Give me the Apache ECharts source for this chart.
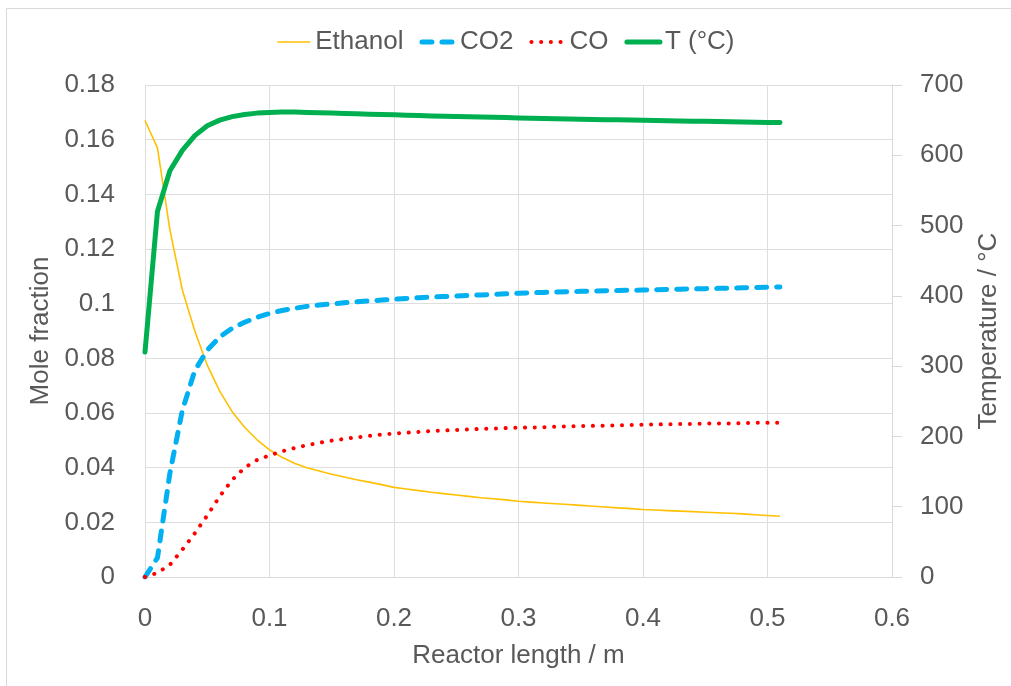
<!DOCTYPE html>
<html>
<head>
<meta charset="utf-8">
<script src="https://cdn.jsdelivr.net/npm/echarts@6/dist/echarts.min.js"></script>
<style>
html, body { margin: 0; padding: 0; background: #fff; }
#main { width: 1011px; height: 686px; }
</style>
</head>
<body>
<div id="main"></div>
<script>
// reactor length (m)
var lengths = [0, 0.01, 0.02, 0.03, 0.04, 0.05, 0.06, 0.07, 0.08, 0.09,
	0.10, 0.11, 0.12, 0.13, 0.14, 0.15, 0.16, 0.17, 0.18, 0.19,
	0.20, 0.21, 0.22, 0.23, 0.24, 0.25, 0.26, 0.27, 0.28, 0.29,
	0.30, 0.31, 0.32, 0.33, 0.34, 0.35, 0.36, 0.37, 0.38, 0.39,
	0.40, 0.41, 0.42, 0.43, 0.44, 0.45, 0.46, 0.47, 0.48, 0.49,
	0.50, 0.51];

var ethanol = [0.1670, 0.1570, 0.1270, 0.1050, 0.0900, 0.0775, 0.0680, 0.0605, 0.0548, 0.0502,
	0.0465, 0.0438, 0.0416, 0.0400, 0.0388, 0.0376, 0.0366, 0.0356, 0.0347, 0.0338,
	0.0328, 0.0322, 0.0316, 0.0310, 0.0305, 0.0300, 0.0295, 0.0290, 0.0286, 0.0282,
	0.0277, 0.0274, 0.0271, 0.0268, 0.0265, 0.0262, 0.0259, 0.0256, 0.0253, 0.0250,
	0.0247, 0.0245, 0.0243, 0.0241, 0.0239, 0.0237, 0.0235, 0.0233, 0.0231, 0.0228,
	0.0225, 0.0222];

var co2 = [0, 0.0070, 0.0380, 0.0610, 0.0755, 0.0830, 0.0878, 0.0910, 0.0932, 0.0950,
	0.0964, 0.0975, 0.0983, 0.0990, 0.0995, 0.0999, 0.1003, 0.1007, 0.1010, 0.1013,
	0.1016, 0.1019, 0.1022, 0.1024, 0.1026, 0.1028, 0.1030, 0.1032, 0.1034, 0.1036,
	0.1038, 0.1040, 0.1041, 0.1043, 0.1044, 0.1045, 0.1046, 0.1047, 0.1048, 0.1049,
	0.1050, 0.1051, 0.1052, 0.1053, 0.1054, 0.1055, 0.1056, 0.1057, 0.1058, 0.1059,
	0.1060, 0.1061];

var co = [0, 0.0015, 0.0045, 0.0100, 0.0160, 0.0225, 0.0295, 0.0355, 0.0400, 0.0428,
	0.0445, 0.0460, 0.0472, 0.0482, 0.0491, 0.0499, 0.0505, 0.0511, 0.0516, 0.0521,
	0.0525, 0.0528, 0.0531, 0.0534, 0.0536, 0.0538, 0.0540, 0.0542, 0.0543, 0.0545,
	0.0546, 0.0547, 0.0548, 0.0550, 0.0551, 0.0552, 0.0553, 0.0554, 0.0555, 0.0556,
	0.0557, 0.0558, 0.0559, 0.0560, 0.0560, 0.0561, 0.0562, 0.0562, 0.0563, 0.0564,
	0.0564, 0.0565];

var temperature = [320, 520, 578, 607, 628, 642, 650, 655, 658, 660,
	661, 661.5, 661.5, 661, 660.5, 660, 659.5, 659, 658.5, 658,
	657.5, 657, 656.5, 656, 655.6, 655.2, 654.8, 654.4, 654, 653.6,
	653.2, 652.8, 652.4, 652.1, 651.8, 651.4, 651, 650.7, 650.4, 650.1,
	649.8, 649.5, 649.2, 648.9, 648.6, 648.3, 648, 647.7, 647.4, 647.1,
	646.8, 646.5];

function pairs(ys) {
	return lengths.map(function (x, i) { return [x, ys[i]]; });
}

var textColor = '#595959';
var gridColor = '#DEDEDE';
var fontFamily = '"Liberation Sans", Arial, sans-serif';
var fontSize = 26;

// 线条样式 (series 和 legend 共用)
var ethanolLine = { color: '#FFC000', width: 1.6 };
var co2Line = { color: '#00B0F0', width: 5, type: [10, 10], cap: 'round' };
var coLine = { color: '#FF0000', width: 4, type: [0.1, 9.6], cap: 'round' };
var tLine = { color: '#00B050', width: 5, cap: 'round', join: 'round' };

var chart = echarts.init(document.getElementById('main'));

var option = {
	backgroundColor: '#fff',
	textStyle: { fontFamily: fontFamily },
	animation: false,
	graphic: [{
		type: 'rect',
		shape: { x: 6.5, y: 8.5, width: 1100, height: 1000 },
		style: { fill: 'none', stroke: '#D9D9D9', lineWidth: 1 },
		silent: true
	}],
	legend: {
		top: 24,
		left: 'center',
		itemWidth: 33,
		itemHeight: 14,
		itemGap: 16,
		itemStyle: { opacity: 0 },
		textStyle: { color: textColor, fontSize: fontSize, fontFamily: fontFamily },
		data: [
			{ name: 'Ethanol', lineStyle: ethanolLine },
			{ name: 'CO2', lineStyle: co2Line },
			{ name: 'CO', lineStyle: coLine },
			{ name: 'T (°C)', lineStyle: tLine }
		]
	},
	grid: {
		left: 145,
		right: 119,
		top: 85,
		bottom: 109,
		containLabel: false
	},
	xAxis: {
		type: 'value',
		min: 0,
		max: 0.6,
		interval: 0.1,
		name: 'Reactor length / m',
		nameLocation: 'middle',
		nameGap: 66,
		nameTextStyle: { color: textColor, fontSize: fontSize },
		axisLine: { show: true, lineStyle: { color: '#D9D9D9' } },
		axisTick: { show: false },
		axisLabel: { color: textColor, fontSize: fontSize, margin: 29 },
		splitLine: { show: true, lineStyle: { color: gridColor } }
	},
	yAxis: [{
		type: 'value',
		min: 0,
		max: 0.18,
		interval: 0.02,
		name: 'Mole fraction',
		nameLocation: 'middle',
		nameGap: 88,
		nameTextStyle: { color: textColor, fontSize: fontSize },
		axisLine: { show: false },
		axisTick: { show: false },
		axisLabel: {
			color: textColor, fontSize: fontSize, margin: 30,
			formatter: function (v) { return String(Math.round(v * 100) / 100); }
		},
		splitLine: { show: true, lineStyle: { color: gridColor } }
	}, {
		type: 'value',
		min: 0,
		max: 700,
		interval: 100,
		position: 'right',
		name: 'Temperature / °C',
		nameLocation: 'middle',
		nameGap: 84,
		nameRotate: 90,
		nameTextStyle: { color: textColor, fontSize: fontSize },
		axisLine: { show: true, lineStyle: { color: '#D9D9D9' } },
		axisTick: { show: true, inside: false, length: 10, lineStyle: { color: '#D9D9D9' } },
		axisLabel: { color: textColor, fontSize: fontSize, margin: 28 },
		splitLine: { show: false }
	}],
	series: [{
		name: 'Ethanol',
		type: 'line',
		yAxisIndex: 0,
		symbol: 'none',
		data: pairs(ethanol),
		itemStyle: { color: '#FFC000' },
		lineStyle: ethanolLine
	}, {
		name: 'CO2',
		type: 'line',
		yAxisIndex: 0,
		symbol: 'none',
		data: pairs(co2),
		itemStyle: { color: '#00B0F0' },
		lineStyle: co2Line
	}, {
		name: 'CO',
		type: 'line',
		yAxisIndex: 0,
		symbol: 'none',
		data: pairs(co),
		itemStyle: { color: '#FF0000' },
		lineStyle: coLine
	}, {
		name: 'T (°C)',
		type: 'line',
		yAxisIndex: 1,
		symbol: 'none',
		data: pairs(temperature),
		itemStyle: { color: '#00B050' },
		lineStyle: tLine
	}]
};

chart.setOption(option);
</script>
</body>
</html>
